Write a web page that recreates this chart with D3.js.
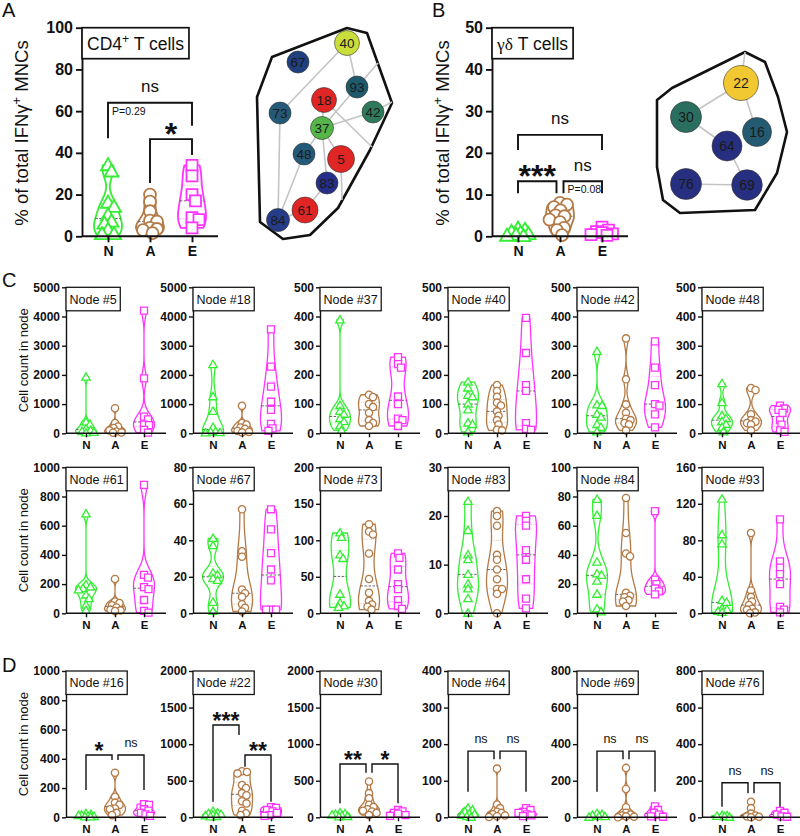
<!DOCTYPE html>
<html>
<head>
<meta charset="utf-8">
<script src="https://cdn.jsdelivr.net/npm/d3@7"></script>
<style>
  body { margin: 0; background: #fff; }
  svg { font-family: "Liberation Sans", Arial, sans-serif; }
</style>
</head>
<body>
<svg id="fig" width="800" height="836"></svg>
<script>
// ---------- data ----------
const groups = ["N", "A", "E"];

// A: CD4+ T cells, % of total IFNγ+ MNCs
const cd4N = [34, 31, 16, 14, 10, 7, 6, 3, 1, 1];
const cd4A = [20, 16.6, 12, 7.5, 7, 4, 3.5, 3, 1.5];
const cd4E = [34, 29, 20, 17, 9, 8, 4];
const cd4Sig = [["N", "E", 64, 47, 53, "ns", "P=0.29"], ["A", "E", 46.6, 25.5, 39, "*"]];

// B: γδ T cells
const gdN = [1.8, 1.5, 1, 0.8, 0.5, 0.3, 0.1, 0];
const gdA = [8, 7.6, 7, 6.2, 5, 4.8, 4, 3.4, 2, 1.5, 0.3];
const gdE = [2.2, 1.5, 1.1, 0.9, 0.6, 0.4, 0.2];
const gdSig = [["N", "E", 24.3, 20.7, 20.7, "ns"], ["N", "A", 13.2, 10.3, 10.3, "***"],
               ["A", "E", 13.2, 10.3, 10.3, "ns", "P=0.08"]];

// network nodes (ids) and links
const netAIds = ["40", "67", "93", "18", "42", "73", "37", "48", "5", "83", "61", "84"];
const netALinks = [["40", "73"], ["40", "93"], ["93", "o1"], ["93", "37"], ["42", "o2"], ["37", "42"],
                   ["18", "o3"], ["18", "37"], ["73", "84"], ["37", "48"], ["48", "84"], ["37", "83"],
                   ["37", "5"], ["5", "o4"], ["61", "83"], ["84", "61"]];
const netBIds = ["22", "30", "16", "64", "76", "69"];
const netBLinks = [["22", "o1"], ["22", "30"], ["22", "16"], ["30", "64"], ["64", "69"], ["76", "69"]];

// C: cell counts per node [N, A, E]
const cNodes = ["Node #5", "Node #18", "Node #37", "Node #40", "Node #42", "Node #48",
                "Node #61", "Node #67", "Node #73", "Node #83", "Node #84", "Node #93"];
const cMax = [5000, 5000, 500, 500, 500, 500, 1000, 80, 200, 30, 100, 160];
const cStep = [1000, 1000, 100, 100, 100, 100, 200, 20, 50, 10, 20, 40];
const node5 = [[1920, 380, 300, 150, 100, 60, 30, 10], [860, 350, 230, 180, 100, 60, 30, 20], [4200, 1880, 570, 480, 300, 280, 120, 20]];
const node18 = [[2350, 1250, 750, 200, 60, 40, 20, 10], [940, 350, 300, 200, 150, 80, 50, 30], [3560, 2280, 1600, 1080, 800, 320, 170, 80]];
const node37 = [[388, 95, 75, 65, 50, 40, 25, 10], [132, 124, 100, 90, 70, 45, 35, 25], [261, 237, 225, 126, 100, 50, 45, 25]];
const node40 = [[175, 155, 130, 125, 100, 80, 35, 30, 5], [165, 145, 125, 105, 95, 75, 60, 45, 30, 12, 10], [395, 275, 165, 145, 35, 15, 12]];
const node42 = [[280, 97, 95, 65, 55, 30, 20, 5], [325, 185, 99, 70, 50, 45, 35, 30, 10], [315, 225, 165, 100, 95, 65, 20]];
const node48 = [[170, 105, 60, 50, 40, 30, 20, 5], [155, 148, 65, 45, 40, 35, 30, 10], [95, 85, 80, 70, 45, 30, 10, 5]];
const node61 = [[680, 195, 180, 170, 160, 125, 100, 55, 20], [235, 80, 70, 55, 40, 25, 20, 15], [880, 263, 245, 179, 165, 91, 16, 5]];
const node67 = [[41, 37, 22, 21, 19, 18, 6, 1], [57, 34, 31, 13, 11, 9, 5, 3, 1], [57, 46, 33, 24, 18, 2, 2, 2]];
const node73 = [[110, 104, 80, 75, 26, 14, 10, 8], [122, 112, 108, 82, 47, 28, 17, 12, 9, 5], [82, 76, 60, 40, 33, 18, 10, 6]];
const node83 = [[23, 17, 12, 11, 8, 6, 5, 3, 0], [21, 20, 18, 12, 11, 9, 7, 5, 5, 4, 0], [20, 19, 18, 13, 11, 7, 3, 1]];
const node84 = [[78, 67, 35, 27, 26, 22, 13, 3, 1], [79, 55, 41, 39, 14, 12, 11, 9, 8, 5], [70, 23, 20, 17, 15, 13]];
const node93 = [[125, 86, 76, 14, 12, 5, 4, 2, 1], [88, 25, 18, 13, 9, 5, 4, 1, 0], [103, 57, 50, 43, 32, 7, 4, 1]];
const cCounts = [node5, node18, node37, node40, node42, node48, node61, node67, node73, node83, node84, node93];

// D: cell counts per node [N, A, E] + significance
const dNodes = ["Node #16", "Node #22", "Node #30", "Node #64", "Node #69", "Node #76"];
const dMax = [1000, 2000, 2000, 400, 800, 800];
const dStep = [200, 500, 500, 100, 200, 200];
const node16 = [[25, 20, 15, 12, 8, 5, 3, 2], [305, 140, 100, 85, 60, 55, 30, 15], [90, 85, 55, 45, 30, 20, 10]];
const node22 = [[80, 60, 50, 40, 30, 20, 10, 5], [630, 620, 600, 440, 400, 330, 300, 220, 190, 90, 55, 30], [140, 130, 100, 80, 60, 30, 20]];
const node30 = [[60, 50, 40, 30, 20, 10, 5], [490, 330, 260, 170, 140, 110, 90, 80, 60, 30], [100, 80, 60, 50, 30, 20]];
const node64 = [[25, 20, 15, 10, 8, 5, 2, 0], [133, 35, 25, 15, 12, 8, 5, 3, 1], [25, 20, 15, 12, 8, 5, 3]];
const node69 = [[20, 15, 10, 5, 3, 0], [270, 155, 55, 25, 15, 10, 5, 3, 0], [60, 40, 25, 15, 5, 3]];
const node76 = [[10, 8, 5, 3, 0], [85, 50, 20, 10, 5, 3, 0], [35, 25, 15, 5, 3]];
const dCounts = [node16, node22, node30, node64, node69, node76];
const dSig = [
  [["N", "A", 426, 187, 392, "*"], ["A", "E", 426, 392, 187, "ns"]],
  [["N", "A", 1262, 213, 1125, "***"], ["A", "E", 852, 692, 213, "**"]],
  [["N", "A", 729, 191, 610, "**"], ["A", "E", 729, 610, 191, "*"]],
  [["N", "A", 181, 70, 159, "ns"], ["A", "E", 181, 159, 70, "ns"]],
  [["N", "A", 362, 140, 317, "ns"], ["A", "E", 362, 317, 140, "ns"]],
  [["N", "A", 189, 58, 131, "ns"], ["A", "E", 189, 131, 58, "ns"]]
];

// ---------- style / layout ----------
const colors = { N: "#33ee33", A: "#b47a46", E: "#ff33ff" };
const svg = d3.select("#fig");

const shapePath = {
  N: s => { const h = s * 0.866; return `M0,${-h * 0.6}L${s / 2},${h * 0.4}L${-s / 2},${h * 0.4}Z`; },
  A: s => d3.symbol(d3.symbolCircle, Math.PI * (s / 2) * (s / 2))(),
  E: s => `M${-s / 2},${-s / 2}h${s}v${s}h${-s}Z`
};

// gaussian kde, truncated at min / max
function violin(vals) {
  const v = vals.slice().sort(d3.ascending);
  const n = v.length;
  const sd = d3.deviation(v) || 1;
  const iqr = d3.quantile(v, 0.75) - d3.quantile(v, 0.25);
  let h = 0.8 * Math.min(sd, iqr > 0 ? iqr / 1.34 : sd) * Math.pow(n, -0.2);
  if (!(h > 0)) h = sd;
  const dens = t => d3.sum(v, x => Math.exp(-0.5 * ((t - x) / h) ** 2));
  const lo = v[0], hi = v[n - 1];
  const pts = d3.range(81).map(i => lo + (hi - lo) * i / 80).map(t => [t, dens(t)]);
  const m = d3.max(pts, d => d[1]);
  pts.forEach(d => d[1] /= m);
  const q = [0.25, 0.5, 0.75].map(p => { const t = d3.quantile(v, p); return [t, dens(t) / m]; });
  return { pts, q };
}

// beeswarm offsets, kept within +-maxOff (overlap allowed when crowded)
function swarm(vals, y, gap, maxOff) {
  const placed = [];
  const off = new Array(vals.length);
  d3.range(vals.length).sort((a, b) => vals[b] - vals[a]).forEach(i => {
    const py = y(vals[i]);
    let best = 0, bestD = -1;
    for (let k = 0; k <= maxOff * 4; k++) {
      const dx = (k % 2 ? 1 : -1) * Math.ceil(k / 2) * 0.5;
      const md = placed.length ? d3.min(placed, p => Math.hypot(p[0] - dx, p[1] - py)) : Infinity;
      if (md >= gap) { best = dx; bestD = md; break; }
      if (md > bestD + 0.5) { bestD = md; best = dx; }
    }
    off[i] = best; placed.push([best, py]);
  });
  return off;
}

function addBox(g, x0, y0, h, pad, fs, sw, build) {
  const t = g.append("text").attr("x", x0 + pad).attr("y", y0 + h / 2).attr("dy", "0.36em")
    .attr("font-size", fs).attr("fill", "#111");
  build(t);
  const w = t.node().getComputedTextLength() + pad * 2;
  g.insert("rect", () => t.node()).attr("x", x0).attr("y", y0).attr("width", w).attr("height", h)
    .attr("fill", "#fff").attr("stroke", "#111").attr("stroke-width", sw);
}

function drawPlot(o) {
  const g = svg.append("g");
  const y = d3.scaleLinear().domain([0, o.max]).range([o.bottom, o.top]);
  const x = d3.scalePoint().domain(groups).range([o.left + o.c0, o.left + o.c1]);

  groups.forEach((grp, i) => {
    const vals = o.data[i];
    const vv = violin(vals);
    const cx = x(grp);
    g.append("path")
      .attr("d", d3.area().curve(d3.curveBasis)
        .x0(d => cx - d[1] * o.hw).x1(d => cx + d[1] * o.hw).y(d => y(d[0]))(vv.pts))
      .attr("fill", "none").attr("stroke", colors[grp]).attr("stroke-width", o.sw);
    vv.q.forEach((d, k) => {
      g.append("line")
        .attr("x1", cx - d[1] * o.hw).attr("x2", cx + d[1] * o.hw)
        .attr("y1", y(d[0])).attr("y2", y(d[0]))
        .attr("stroke", k === 1 ? "#444" : colors[grp]).attr("stroke-opacity", k === 1 ? 0.9 : 0.5)
        .attr("stroke-width", 0.9).attr("stroke-dasharray", k === 1 ? "2.5,1.5" : "1,1.2");
    });
    const off = swarm(vals, y, o.gap, o.maxOff);
    g.selectAll(null).data(vals).join("path")
      .attr("d", shapePath[grp](o.ms[grp]))
      .attr("transform", (d, j) => `translate(${cx + off[j]},${y(d)})`)
      .attr("fill", "#fff").attr("stroke", colors[grp]).attr("stroke-width", o.sw);
  });

  // axes
  const ya = g.append("g").attr("transform", `translate(${o.left},0)`)
    .call(d3.axisLeft(y).tickValues(d3.range(0, o.max + o.step / 2, o.step))
      .tickFormat(d3.format("d")).tickSize(o.tick).tickSizeOuter(0).tickPadding(o.pad));
  ya.select(".domain").attr("stroke", "#111").attr("stroke-width", o.aw);
  ya.selectAll(".tick line").attr("stroke", "#111").attr("stroke-width", o.aw);
  ya.selectAll("text").attr("font-size", o.tfs).attr("font-weight", "bold").attr("fill", "#111")
    .attr("font-family", "'Liberation Sans', Arial, sans-serif");

  const xa = g.append("g").attr("transform", `translate(0,${o.bottom})`)
    .call(d3.axisBottom(x).tickSize(o.tick).tickPadding(o.xpad));
  xa.select(".domain").remove();
  xa.append("line").attr("x1", o.left).attr("x2", o.left + o.width)
    .attr("stroke", "#111").attr("stroke-width", o.aw);
  xa.selectAll(".tick line").attr("stroke", "#111").attr("stroke-width", o.aw);
  xa.selectAll("text").attr("font-size", o.cfs).attr("font-weight", "bold").attr("fill", "#111")
    .attr("font-family", "'Liberation Sans', Arial, sans-serif");

  // title box
  addBox(g, o.left, o.top, o.boxH, o.boxPad, o.boxFs, o.aw * 0.9, o.title);

  // significance brackets
  (o.sig || []).forEach(b => {
    const [g1, g2, top, e1, e2, lab, sub] = b;
    let x1 = x(g1), x2 = x(g2);
    if (o.sig.some(c => c !== b && c[1] === g1)) x1 += o.inset;
    if (o.sig.some(c => c !== b && c[0] === g2)) x2 -= o.inset;
    g.append("path").attr("d", `M${x1},${y(e1)}V${y(top)}H${x2}V${y(e2)}`)
      .attr("fill", "none").attr("stroke", "#111").attr("stroke-width", o.aw);
    const star = lab.startsWith("*");
    const fs = star ? o.starFs : o.nsFs;
    g.append("text").attr("x", (x1 + x2) / 2)
      .attr("y", star ? y(top) + 0.17 * fs : y(top) - 0.62 * fs)
      .attr("text-anchor", "middle").attr("font-size", fs)
      .attr("font-weight", star ? "bold" : "normal").attr("fill", "#111").text(lab);
    if (sub) {
      g.append("text").attr("x", x1 + 4).attr("y", y(top) + 12)
        .attr("font-size", 10.5).attr("fill", "#111").text(sub);
    }
  });
  return g;
}

function yLabel(x, cy, fs, build) {
  const t = svg.append("text").attr("transform", `translate(${x},${cy}) rotate(-90)`)
    .attr("text-anchor", "middle").attr("font-size", fs).attr("fill", "#111");
  build(t);
}

function sup(t, s) {
  t.append("tspan").attr("font-size", "70%").attr("baseline-shift", "super").text(s);
}

// ---------- panels A, B ----------
const bigOpts = {
  top: 27.7, bottom: 236.3, width: 136, c0: 26, c1: 110, hw: 14, sw: 1.8, gap: 7, maxOff: 11,
  ms: { N: 14, A: 12, E: 11 }, tick: 6, pad: 3, xpad: 4, aw: 1.9, tfs: 16, cfs: 14,
  boxH: 31, boxPad: 5, boxFs: 17.5, inset: 3.5, starFs: 32, nsFs: 17
};

drawPlot(Object.assign({}, bigOpts, {
  left: 82, max: 100, step: 20, data: [cd4N, cd4A, cd4E], sig: cd4Sig,
  title: t => { t.append("tspan").text("CD4"); sup(t, "+"); t.append("tspan").text(" T cells"); }
}));
drawPlot(Object.assign({}, bigOpts, {
  left: 492, max: 50, step: 10, data: [gdN, gdA, gdE], sig: gdSig,
  title: t => { t.append("tspan").attr("font-family", "'Liberation Serif', serif").text("γδ"); t.append("tspan").text(" T cells"); }
}));

const ifnLabel = t => { t.append("tspan").text("% of total IFNγ"); sup(t, "+"); t.append("tspan").text(" MNCs"); };
yLabel(28, 133, 18.5, ifnLabel);
yLabel(449, 133, 18.5, ifnLabel);

// ---------- networks ----------
const netAColor = { "40": "#c9de3a", "67": "#1f3f7e", "93": "#1f5a6c", "18": "#e02525", "42": "#2f7a5c",
  "73": "#245a78", "37": "#55b548", "48": "#245a78", "5": "#e02525", "83": "#262f88", "61": "#e02525", "84": "#263c88" };
// layout in local units (node x, y, radius)
const netALayout = { "40": [92, 18, 12.5], "67": [43, 37, 11], "93": [102, 62, 11], "18": [69, 75, 12.5],
  "42": [118, 87, 11], "73": [25, 88, 11], "37": [67, 103, 11.5], "48": [49, 129, 11], "5": [86, 134, 13.5],
  "83": [72, 158, 11], "61": [50, 185, 13], "84": [23, 195, 11.5],
  "o1": [123, 38, 0], "o2": [137, 77, 0], "o3": [117, 122, 0], "o4": [87, 175, 0] };
const netAHull = [[17, 32], [92, 3], [112, 8], [137, 78], [115, 125], [83, 183], [55, 210], [28, 214], [5, 197], [2, 72]];

const netBColor = { "22": "#f2c832", "30": "#2a6e60", "16": "#245a72", "64": "#272f80", "76": "#272f80", "69": "#272f80" };
const netBLayout = { "22": [84, 31, 17.5], "30": [29, 65, 15.5], "16": [100, 80, 14.5], "64": [70, 94, 15],
  "76": [29, 132, 15.5], "69": [90, 133, 15.3], "o1": [88, 0, 0] };
const netBHull = [[88, 0], [108, 10], [121, 45], [130, 80], [120, 121], [98, 158], [23, 161], [6, 148], [0, 115], [0, 48], [15, 36]];

function drawNetwork(ids, links, layout, col, hull, ox, oy, fs) {
  const g = svg.append("g");
  const sx = d3.scaleLinear().domain([0, 100]).range([ox, ox + 100]);
  const sy = d3.scaleLinear().domain([0, 100]).range([oy, oy + 100]);
  g.append("path").attr("d", d3.line().x(d => sx(d[0])).y(d => sy(d[1])).curve(d3.curveLinearClosed)(hull))
    .attr("fill", "none").attr("stroke", "#111").attr("stroke-width", 2.6).attr("stroke-linejoin", "round");
  g.selectAll(null).data(links).join("line")
    .attr("x1", d => sx(layout[d[0]][0])).attr("y1", d => sy(layout[d[0]][1]))
    .attr("x2", d => sx(layout[d[1]][0])).attr("y2", d => sy(layout[d[1]][1]))
    .attr("stroke", "#c4c4c4").attr("stroke-width", 1.6);
  const nd = g.selectAll(null).data(ids).join("g")
    .attr("transform", d => `translate(${sx(layout[d][0])},${sy(layout[d][1])})`);
  nd.append("circle").attr("r", d => layout[d][2]).attr("fill", d => col[d])
    .attr("stroke", "#333").attr("stroke-width", 0.6);
  nd.append("text").attr("text-anchor", "middle").attr("dy", "0.36em").attr("font-size", fs)
    .attr("fill", "#1a1a1a").text(d => d);
}
drawNetwork(netAIds, netALinks, netALayout, netAColor, netAHull, 255, 25, 13.5);
drawNetwork(netBIds, netBLinks, netBLayout, netBColor, netBHull, 657, 52, 14);

// ---------- panels C, D ----------
const colLeft = [66, 193, 320, 448, 577, 702];
const smallOpts = {
  width: 100, c0: 20, c1: 78, hw: 10.5, sw: 1.3, gap: 4.6, maxOff: 8,
  ms: { N: 8.5, A: 7.3, E: 7 }, tick: 4, pad: 2, xpad: 4, aw: 1.4, tfs: 12, cfs: 11.5,
  boxH: 23.5, boxPad: 3.5, boxFs: 12.5, inset: 3, starFs: 23, nsFs: 12.5
};
const rowTop = [287.3, 467.3, 671];
const rowBottom = [433.3, 613.3, 817.3];

cNodes.forEach((name, i) => {
  const r = Math.floor(i / 6);
  drawPlot(Object.assign({}, smallOpts, {
    left: colLeft[i % 6], top: rowTop[r], bottom: rowBottom[r], max: cMax[i], step: cStep[i],
    data: cCounts[i], title: t => t.text(name)
  }));
});
dNodes.forEach((name, i) => {
  drawPlot(Object.assign({}, smallOpts, {
    left: colLeft[i], top: rowTop[2], bottom: rowBottom[2], max: dMax[i], step: dStep[i],
    data: dCounts[i], sig: dSig[i], title: t => t.text(name)
  }));
});

const cellLabel = t => t.text("Cell count in node");
rowTop.forEach((t, i) => yLabel(28, (t + rowBottom[i]) / 2, 13, cellLabel));

// panel letters
[["A", 2, 17], ["B", 432, 17], ["C", 2, 287], ["D", 2, 672]].forEach(d => {
  svg.append("text").attr("x", d[1]).attr("y", d[2]).attr("font-size", 20).attr("fill", "#111").text(d[0]);
});
</script>
</body>
</html>
